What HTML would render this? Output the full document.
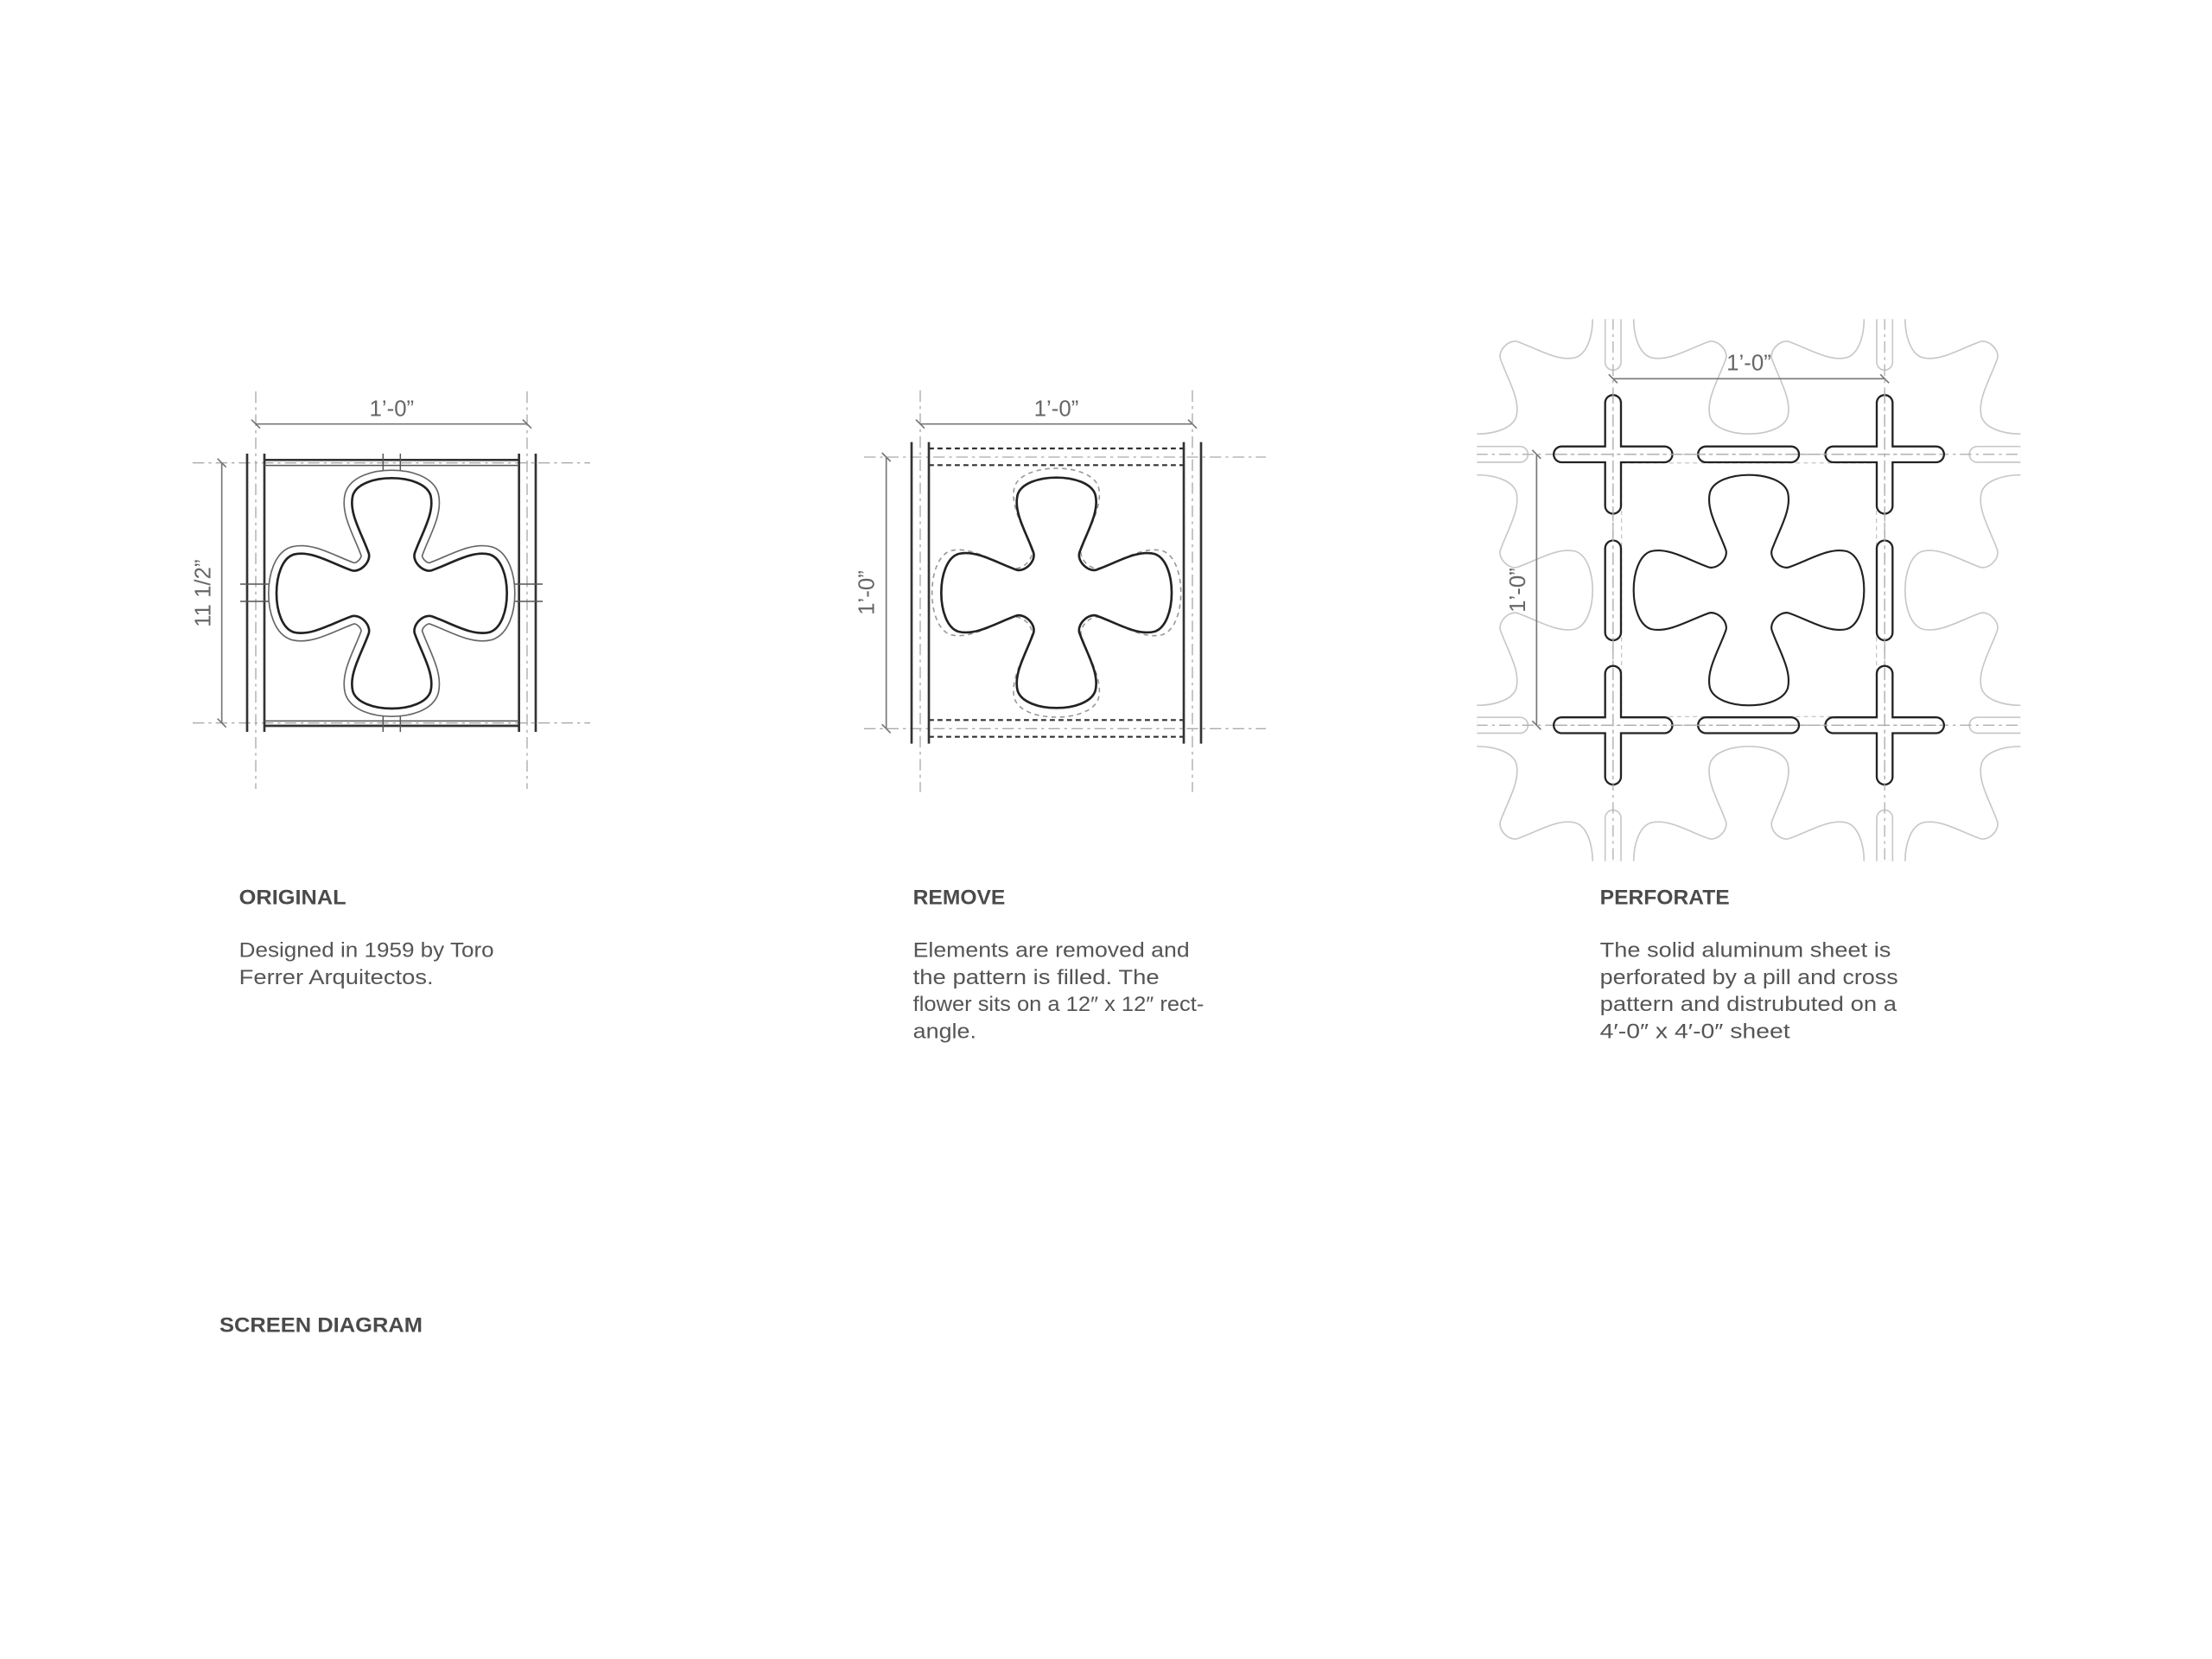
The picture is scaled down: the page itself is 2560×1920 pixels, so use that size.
<!DOCTYPE html>
<html><head><meta charset="utf-8"><style>
html,body{margin:0;padding:0;background:#fff;}
svg{display:block;}
text{font-family:"Liberation Sans",sans-serif;}
</style></head><body>
<svg width="2560" height="1920" viewBox="0 0 1536 1152" xmlns="http://www.w3.org/2000/svg">
<defs>
<path id="fl" d="M -16,-28 C -21,-42 -30,-56 -27,-68 C -22,-84 22,-84 27,-68 C 30,-56 21,-42 16,-28 C 14,-22 22,-14 28,-16 C 42,-21 56,-30 68,-27 C 84,-22 84,22 68,27 C 56,30 42,21 28,16 C 22,14 14,22 16,28 C 21,42 30,56 27,68 C 22,84 -22,84 -27,68 C -30,56 -21,42 -16,28 C -14,22 -22,14 -28,16 C -42,21 -56,30 -68,27 C -84,22 -84,-22 -68,-27 C -56,-30 -42,-21 -28,-16 C -22,-14 -14,-22 -16,-28 Z"/>
<clipPath id="c3"><rect x="1025.6" y="221.6" width="377.4" height="376.4"/></clipPath>
</defs>
<rect width="1536" height="1152" fill="#fff"/>

<!-- ===== Diagram 1 ===== -->
<g fill="none">
 <g stroke="#aaa" stroke-width="0.8" stroke-dasharray="8 3 2 3">
  <line x1="177.6" y1="271.8" x2="177.6" y2="547.8"/>
  <line x1="366" y1="271.8" x2="366" y2="547.8"/>
  <line x1="133.8" y1="321.4" x2="409.8" y2="321.4"/>
  <line x1="133.8" y1="502" x2="409.8" y2="502"/>
 </g>
 <g stroke="#333" stroke-width="1.6">
  <line x1="171.6" y1="315" x2="171.6" y2="508.2"/>
  <line x1="183.6" y1="315" x2="183.6" y2="508.2"/>
  <line x1="360.4" y1="315" x2="360.4" y2="508.2"/>
  <line x1="372" y1="315" x2="372" y2="508.2"/>
  <line x1="183.6" y1="319.4" x2="360.4" y2="319.4"/>
  <line x1="183.6" y1="504" x2="360.4" y2="504"/>
 </g>
 <g stroke="#555" stroke-width="0.9">
  <line x1="183.6" y1="323.2" x2="360.4" y2="323.2"/>
  <line x1="183.6" y1="500.6" x2="360.4" y2="500.6"/>
  <line x1="266" y1="315" x2="266" y2="332"/><line x1="278" y1="315" x2="278" y2="332"/>
  <line x1="266" y1="492" x2="266" y2="508.2"/><line x1="278" y1="492" x2="278" y2="508.2"/>
  <line x1="166.8" y1="405.6" x2="192" y2="405.6"/><line x1="166.8" y1="417.6" x2="192" y2="417.6"/>
  <line x1="352" y1="405.6" x2="376.8" y2="405.6"/><line x1="352" y1="417.6" x2="376.8" y2="417.6"/>
 </g>
 <g transform="translate(272,412)">
  <use href="#fl" stroke="#666" stroke-width="12" fill="#fff"/>
  <use href="#fl" stroke="#fff" stroke-width="10"/>
  <use href="#fl" fill="#fff" stroke="none"/>
  <use href="#fl" stroke="#222" stroke-width="1.6"/>
 </g>
 <g stroke="#777" stroke-width="1">
  <line x1="177.6" y1="294.4" x2="366" y2="294.4"/>
  <line x1="174.6" y1="291.4" x2="180.6" y2="297.4"/><line x1="363" y1="291.4" x2="369" y2="297.4"/>
  <line x1="154" y1="321.4" x2="154" y2="502"/>
  <line x1="151" y1="318.4" x2="157" y2="324.4"/><line x1="151" y1="499" x2="157" y2="505"/>
 </g>
</g>
<g font-size="15.5" fill="#666" text-anchor="middle">
<text x="272" y="289">1’-0”</text>
<text transform="translate(146,412) rotate(-90)">11 1/2”</text>
<text x="733.5" y="289">1’-0”</text>
<text transform="translate(607,411.6) rotate(-90)">1’-0”</text>
<text x="1214.4" y="257">1’-0”</text>
<text transform="translate(1059,409.8) rotate(-90)">1’-0”</text>
</g>

<!-- ===== Diagram 2 ===== -->
<g fill="none">
 <g stroke="#aaa" stroke-width="0.8" stroke-dasharray="8 3 2 3">
  <line x1="639" y1="271" x2="639" y2="550"/>
  <line x1="828" y1="271" x2="828" y2="550"/>
  <line x1="600" y1="317.4" x2="879" y2="317.4"/>
  <line x1="600" y1="506" x2="879" y2="506"/>
 </g>
 <g stroke="#333" stroke-width="1.6">
  <line x1="633" y1="307" x2="633" y2="516.4"/>
  <line x1="645" y1="307" x2="645" y2="516.4"/>
  <line x1="822" y1="307" x2="822" y2="516.4"/>
  <line x1="834" y1="307" x2="834" y2="516.4"/>
 </g>
 <g stroke="#333" stroke-width="1.3" stroke-dasharray="3.5 2.5">
  <line x1="645" y1="311.4" x2="822" y2="311.4"/>
  <line x1="645" y1="323" x2="822" y2="323"/>
  <line x1="645" y1="500" x2="822" y2="500"/>
  <line x1="645" y1="511.6" x2="822" y2="511.6"/>
 </g>
 <g transform="translate(733.6,411.6)">
  <use href="#fl" transform="scale(1.08)" stroke="#999" stroke-width="0.9" stroke-dasharray="3 2.5"/>
  <use href="#fl" stroke="#222" stroke-width="1.6"/>
 </g>
 <g stroke="#777" stroke-width="1">
  <line x1="639" y1="294.4" x2="828" y2="294.4"/>
  <line x1="636" y1="291.4" x2="642" y2="297.4"/><line x1="825" y1="291.4" x2="831" y2="297.4"/>
  <line x1="615.4" y1="317.4" x2="615.4" y2="506"/>
  <line x1="612.4" y1="314.4" x2="618.4" y2="320.4"/><line x1="612.4" y1="503" x2="618.4" y2="509"/>
 </g>
</g>

<!-- ===== Diagram 3 ===== -->
<g fill="none">
 <g clip-path="url(#c3)">
  <g stroke="#c8c8c8" stroke-width="1">
   <use href="#fl" transform="translate(1025.9,221.3)"/>
   <use href="#fl" transform="translate(1214.4,221.3)"/>
   <use href="#fl" transform="translate(1402.9,221.3)"/>
   <use href="#fl" transform="translate(1025.9,409.8)"/>
   <use href="#fl" transform="translate(1402.9,409.8)"/>
   <use href="#fl" transform="translate(1025.9,598.3)"/>
   <use href="#fl" transform="translate(1214.4,598.3)"/>
   <use href="#fl" transform="translate(1402.9,598.3)"/>
  </g>
  <g stroke-linecap="round">
   <g stroke="#c8c8c8" stroke-width="12">
    <line x1="1120.1" y1="186" x2="1120.1" y2="251.5"/>
    <line x1="1308.7" y1="186" x2="1308.7" y2="251.5"/>
    <line x1="1120.1" y1="568" x2="1120.1" y2="634"/>
    <line x1="1308.7" y1="568" x2="1308.7" y2="634"/>
    <line x1="990" y1="315.5" x2="1055.5" y2="315.5"/>
    <line x1="990" y1="503.6" x2="1055.5" y2="503.6"/>
    <line x1="1373" y1="315.5" x2="1440" y2="315.5"/>
    <line x1="1373" y1="503.6" x2="1440" y2="503.6"/>
   </g>
   <g stroke="#fff" stroke-width="10">
    <line x1="1120.1" y1="186" x2="1120.1" y2="251.5"/>
    <line x1="1308.7" y1="186" x2="1308.7" y2="251.5"/>
    <line x1="1120.1" y1="568" x2="1120.1" y2="634"/>
    <line x1="1308.7" y1="568" x2="1308.7" y2="634"/>
    <line x1="990" y1="315.5" x2="1055.5" y2="315.5"/>
    <line x1="990" y1="503.6" x2="1055.5" y2="503.6"/>
    <line x1="1373" y1="315.5" x2="1440" y2="315.5"/>
    <line x1="1373" y1="503.6" x2="1440" y2="503.6"/>
   </g>
  </g>
  <g stroke="#b0b0b0" stroke-width="0.8" stroke-dasharray="8 3 2 3">
   <line x1="1120.1" y1="221" x2="1120.1" y2="600"/>
   <line x1="1308.7" y1="221" x2="1308.7" y2="600"/>
   <line x1="1025" y1="315.5" x2="1404" y2="315.5"/>
   <line x1="1025" y1="503.6" x2="1404" y2="503.6"/>
  </g>
  <g stroke="#c0c0c0" stroke-width="0.7" stroke-dasharray="3 2.5">
   <line x1="1126" y1="321.5" x2="1303" y2="321.5"/>
   <line x1="1126" y1="497.6" x2="1303" y2="497.6"/>
   <line x1="1126" y1="321.5" x2="1126" y2="497.6"/>
   <line x1="1303" y1="321.5" x2="1303" y2="497.6"/>
  </g>
 </g>
 <g stroke-linecap="round">
  <g stroke="#222" stroke-width="12.4">
   <line x1="1120.1" y1="279.8" x2="1120.1" y2="351.2"/><line x1="1084.4" y1="315.5" x2="1155.8" y2="315.5"/>
   <line x1="1308.7" y1="279.8" x2="1308.7" y2="351.2"/><line x1="1273" y1="315.5" x2="1344.4" y2="315.5"/>
   <line x1="1120.1" y1="467.9" x2="1120.1" y2="539.3"/><line x1="1084.4" y1="503.6" x2="1155.8" y2="503.6"/>
   <line x1="1308.7" y1="467.9" x2="1308.7" y2="539.3"/><line x1="1273" y1="503.6" x2="1344.4" y2="503.6"/>
   <line x1="1184.6" y1="315.5" x2="1243.7" y2="315.5"/>
   <line x1="1184.6" y1="503.6" x2="1243.7" y2="503.6"/>
   <line x1="1120.1" y1="380.8" x2="1120.1" y2="439.1"/>
   <line x1="1308.7" y1="380.8" x2="1308.7" y2="439.1"/>
  </g>
  <g stroke="#fff" stroke-width="9.6">
   <line x1="1120.1" y1="279.8" x2="1120.1" y2="351.2"/><line x1="1084.4" y1="315.5" x2="1155.8" y2="315.5"/>
   <line x1="1308.7" y1="279.8" x2="1308.7" y2="351.2"/><line x1="1273" y1="315.5" x2="1344.4" y2="315.5"/>
   <line x1="1120.1" y1="467.9" x2="1120.1" y2="539.3"/><line x1="1084.4" y1="503.6" x2="1155.8" y2="503.6"/>
   <line x1="1308.7" y1="467.9" x2="1308.7" y2="539.3"/><line x1="1273" y1="503.6" x2="1344.4" y2="503.6"/>
   <line x1="1184.6" y1="315.5" x2="1243.7" y2="315.5"/>
   <line x1="1184.6" y1="503.6" x2="1243.7" y2="503.6"/>
   <line x1="1120.1" y1="380.8" x2="1120.1" y2="439.1"/>
   <line x1="1308.7" y1="380.8" x2="1308.7" y2="439.1"/>
  </g>
  <g stroke="#aaa" stroke-width="0.8" stroke-dasharray="8 3 2 3">
   <line x1="1120.1" y1="272" x2="1120.1" y2="545"/>
   <line x1="1308.7" y1="272" x2="1308.7" y2="545"/>
   <line x1="1080" y1="315.5" x2="1350" y2="315.5"/>
   <line x1="1080" y1="503.6" x2="1350" y2="503.6"/>
  </g>
 </g>
 <use href="#fl" transform="translate(1214.4,409.8)" stroke="#222" stroke-width="1.3"/>
 <g stroke="#777" stroke-width="1">
  <line x1="1120.1" y1="263" x2="1308.7" y2="263"/>
  <line x1="1117.1" y1="260" x2="1123.1" y2="266"/><line x1="1305.7" y1="260" x2="1311.7" y2="266"/>
  <line x1="1067" y1="315.5" x2="1067" y2="503.6"/>
  <line x1="1064" y1="312.5" x2="1070" y2="318.5"/><line x1="1064" y1="500.6" x2="1070" y2="506.6"/>
 </g>
</g>

<!-- ===== Text ===== -->
<g fill="#4a4a4a" font-size="14.5" font-weight="bold">
 <text x="166" y="628" textLength="74.4" lengthAdjust="spacingAndGlyphs">ORIGINAL</text>
 <text x="634" y="628" textLength="64" lengthAdjust="spacingAndGlyphs">REMOVE</text>
 <text x="1111" y="628" textLength="90" lengthAdjust="spacingAndGlyphs">PERFORATE</text>
 <text x="152.4" y="925" textLength="141" lengthAdjust="spacingAndGlyphs">SCREEN DIAGRAM</text>
</g>
<g fill="#555" font-size="14.6">
 <text x="166" y="664.5" textLength="177" lengthAdjust="spacingAndGlyphs">Designed in 1959 by Toro</text>
 <text x="166" y="683.3" textLength="135" lengthAdjust="spacingAndGlyphs">Ferrer Arquitectos.</text>
 <text x="634" y="664.5" textLength="192" lengthAdjust="spacingAndGlyphs">Elements are removed and</text>
 <text x="634" y="683.3" textLength="171" lengthAdjust="spacingAndGlyphs">the pattern is filled. The</text>
 <text x="634" y="702.1" textLength="202" lengthAdjust="spacingAndGlyphs">flower sits on a 12″ x 12″ rect-</text>
 <text x="634" y="720.9" textLength="44" lengthAdjust="spacingAndGlyphs">angle.</text>
 <text x="1111" y="664.5" textLength="202" lengthAdjust="spacingAndGlyphs">The solid aluminum sheet is</text>
 <text x="1111" y="683.3" textLength="207" lengthAdjust="spacingAndGlyphs">perforated by a pill and cross</text>
 <text x="1111" y="702.1" textLength="206" lengthAdjust="spacingAndGlyphs">pattern and distrubuted on a</text>
 <text x="1111" y="720.9" textLength="132" lengthAdjust="spacingAndGlyphs">4′-0″ x 4′-0″ sheet</text>
</g>
</svg>
</body></html>
